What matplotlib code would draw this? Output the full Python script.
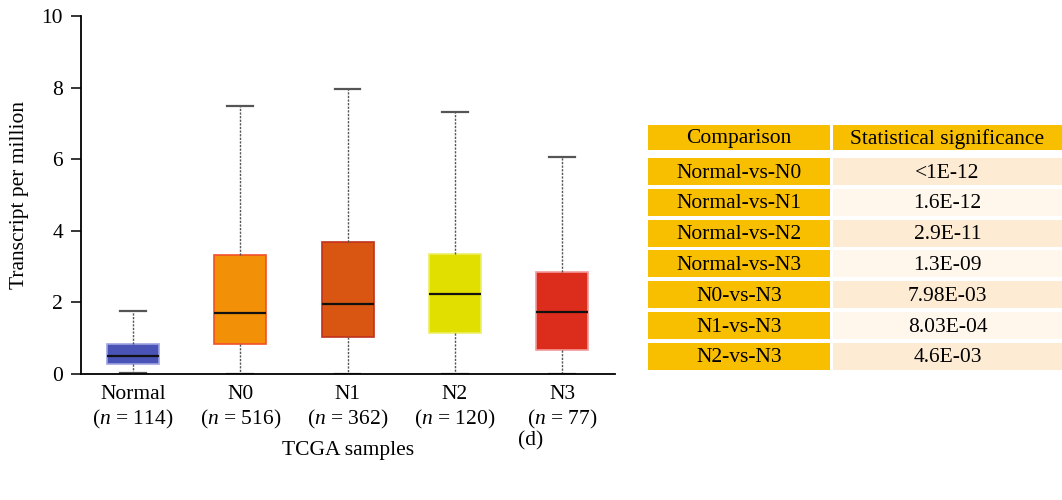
import matplotlib
matplotlib.use("Agg")
import matplotlib.pyplot as plt
from matplotlib.patches import Rectangle

plt.rcParams["font.family"] = ["Liberation Serif", "DejaVu Serif"]
plt.rcParams["mathtext.fontset"] = "custom"
plt.rcParams["mathtext.rm"] = "Liberation Serif"
plt.rcParams["mathtext.it"] = "Liberation Serif:italic"

# Box statistics (transcripts per million)
groups = ["Normal", "N0", "N1", "N2", "N3"]
counts = [114, 516, 362, 120, 77]
whislo = [0.03, 0.0, 0.0, 0.0, 0.0]
q1 = [0.28, 0.83, 1.03, 1.14, 0.68]
median = [0.50, 1.70, 1.96, 2.23, 1.72]
q3 = [0.84, 3.32, 3.70, 3.36, 2.84]
whishi = [1.76, 7.48, 7.95, 7.33, 6.07]
fill_colors = ["#4a53b6", "#f29107", "#d85512", "#e0df00", "#dc2c1c"]
edge_colors = ["#9ea3e0", "#f2502a", "#c0321c", "#eeee66", "#f39a9a"]

# Significance table
comparisons = ["Normal-vs-N0", "Normal-vs-N1", "Normal-vs-N2", "Normal-vs-N3",
               "N0-vs-N3", "N1-vs-N3", "N2-vs-N3"]
pvalues = ["<1E-12", "1.6E-12", "2.9E-11", "1.3E-09",
           "7.98E-03", "8.03E-04", "4.6E-03"]
header = ["Comparison", "Statistical significance"]

FS = 15.5
W, H = 1062, 500
fig = plt.figure(figsize=(W / 100, H / 100), dpi=100)
ax = fig.add_axes([81 / W, 1 - 374 / H, 534 / W, 358 / H])

stats = []
for i, g in enumerate(groups):
    stats.append(dict(label=g, whislo=whislo[i], q1=q1[i], med=median[i],
                      q3=q3[i], whishi=whishi[i], fliers=[]))

positions = list(range(1, len(groups) + 1))
bp = ax.bxp(stats, positions=positions, widths=0.485, patch_artist=True,
            showfliers=False, capwidths=0.24,
            whiskerprops=dict(color="#555555", linestyle=(0, (1.6, 1.0)), linewidth=1.0),
            capprops=dict(color="#555555", linewidth=1.6),
            medianprops=dict(color="#111111", linewidth=1.6))
for patch, fc, ec in zip(bp["boxes"], fill_colors, edge_colors):
    patch.set_facecolor(fc)
    patch.set_edgecolor(ec)
    patch.set_linewidth(1.2)

ax.set_xlim(0.515, 5.494)
ax.set_ylim(0, 10)
ax.set_yticks([0, 2, 4, 6, 8, 10])
ax.tick_params(axis="y", length=7, width=1.1, labelsize=FS, pad=6)
ax.tick_params(axis="x", length=0, labelsize=FS, pad=8)
ax.set_xticks(positions)
ax.set_xticklabels([f"{g}\n($n$ = {n})" for g, n in zip(groups, counts)],
                   linespacing=1.25)
for s in ["top", "right"]:
    ax.spines[s].set_visible(False)
for s in ["left", "bottom"]:
    ax.spines[s].set_linewidth(1.3)
ax.set_ylabel("Transcript per million", fontsize=FS, labelpad=9)
ax.set_xlabel("TCGA samples", fontsize=FS, labelpad=7)

# Table drawn in pixel coordinates
tab = fig.add_axes([0, 0, 1, 1])
tab.set_xlim(0, W)
tab.set_ylim(H, 0)
tab.axis("off")

amber = "#f8be00"
peach = "#fdebd3"
cream = "#fff6ec"
c0_left, c0_right = 648, 830
c1_left, c1_right = 833, 1062

tab.add_patch(Rectangle((c0_left, 125), c0_right - c0_left, 25, color=amber, lw=0))
tab.add_patch(Rectangle((c1_left, 125), c1_right - c1_left, 25, color=amber, lw=0))
tab.text((c0_left + c0_right) / 2, 139, header[0], ha="center", va="center", fontsize=FS)
tab.text((c1_left + c1_right) / 2, 139, header[1], ha="center", va="center", fontsize=FS)

for i, (comp, p) in enumerate(zip(comparisons, pvalues)):
    top = 158 + i * 30.8
    h = 27.0
    tab.add_patch(Rectangle((c0_left, top), c0_right - c0_left, h, color=amber, lw=0))
    tab.add_patch(Rectangle((c1_left, top), c1_right - c1_left, h,
                            color=peach if i % 2 == 0 else cream, lw=0))
    tab.text((c0_left + c0_right) / 2, top + h / 2 + 1.5, comp, ha="center", va="center", fontsize=FS)
    tab.text((c1_left + c1_right) / 2, top + h / 2 + 1.5, p, ha="center", va="center", fontsize=FS)

tab.text(531, 441, "(d)", ha="center", va="center", fontsize=FS)

fig.savefig("out.png", dpi=100)
